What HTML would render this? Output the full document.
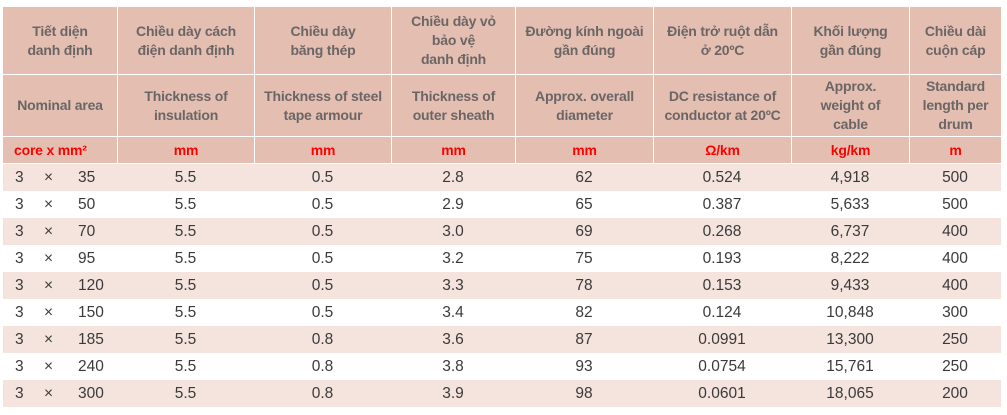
<!DOCTYPE html><html><head><meta charset="utf-8"><style>
body{margin:0;background:#fff;width:1007px;height:415px;overflow:hidden;font-family:"Liberation Sans",sans-serif}
.c{position:absolute;display:flex;align-items:center;justify-content:center;text-align:center;box-sizing:border-box}
.h{background:#e4bfb1;color:#6b6566;font-weight:bold;font-size:14px;line-height:19px;letter-spacing:-0.2px}
.u{color:#f00}
.d{color:#3a3a3a;font-size:15.5px}
</style></head><body>
<div id="t"></div>
<script>
var X=[3,117,254,391,515,653,791,909,1001];
var h1=["Tiết diện<br>danh định","Chiều dày cách<br>điện danh định","Chiều dày<br>băng thép","Chiều dày vỏ<br>bảo vệ<br>danh định","Đường kính ngoài<br>gần đúng","Điện trở ruột dẫn<br>ở 20ºC","Khối lượng<br>gần đúng","Chiều dài<br>cuộn cáp"];
var h2=["Nominal area","Thickness of<br>insulation","Thickness of steel<br>tape armour","Thickness of<br>outer sheath","Approx. overall<br>diameter","DC resistance of<br>conductor at 20ºC","Approx.<br>weight of<br>cable","Standard<br>length per<br>drum"];
var h3=["core x mm²","mm","mm","mm","mm","Ω/km","kg/km","m"];
var D=[["35","5.5","0.5","2.8","62","0.524","4,918","500"],["50","5.5","0.5","2.9","65","0.387","5,633","500"],["70","5.5","0.5","3.0","69","0.268","6,737","400"],["95","5.5","0.5","3.2","75","0.193","8,222","400"],["120","5.5","0.5","3.3","78","0.153","9,433","400"],["150","5.5","0.5","3.4","82","0.124","10,848","300"],["185","5.5","0.8","3.6","87","0.0991","13,300","250"],["240","5.5","0.8","3.8","93","0.0754","15,761","250"],["300","5.5","0.8","3.9","98","0.0601","18,065","200"]];
var s="";
function cell(x0,x1,y,h,cls,txt,st){s+='<div class="c '+cls+'" style="left:'+x0+'px;top:'+y+'px;width:'+(x1-x0)+'px;height:'+h+'px;'+(st||'')+'">'+txt+'</div>';}
for(var i=0;i<8;i++){
 var l=X[i]+(i?1:0),r=X[i+1];
 cell(l,r,7,67,"h",h1[i]);
 cell(l,r,75,61,"h",h2[i]);
 cell(l,r,137,26,"h u",h3[i],i==0?"justify-content:flex-start;padding-left:11px":"");
}
for(var j=0;j<9;j++){
 var y=164+27*j;
 if(j%2==0)s+='<div style="position:absolute;left:3px;top:'+y+'px;width:998px;height:27px;background:#f5e3dd"></div>';
 s+='<div class="d" style="position:absolute;left:15px;top:'+(y+5)+'px">3</div><div class="d" style="position:absolute;left:44px;top:'+(y+5)+'px">×</div><div class="d" style="position:absolute;left:78px;top:'+(y+5)+'px">'+D[j][0]+'</div>';
 for(var i=1;i<8;i++)cell(X[i],X[i+1],y,27,"d",D[j][i]);
}
document.getElementById("t").innerHTML=s;
</script></body></html>
